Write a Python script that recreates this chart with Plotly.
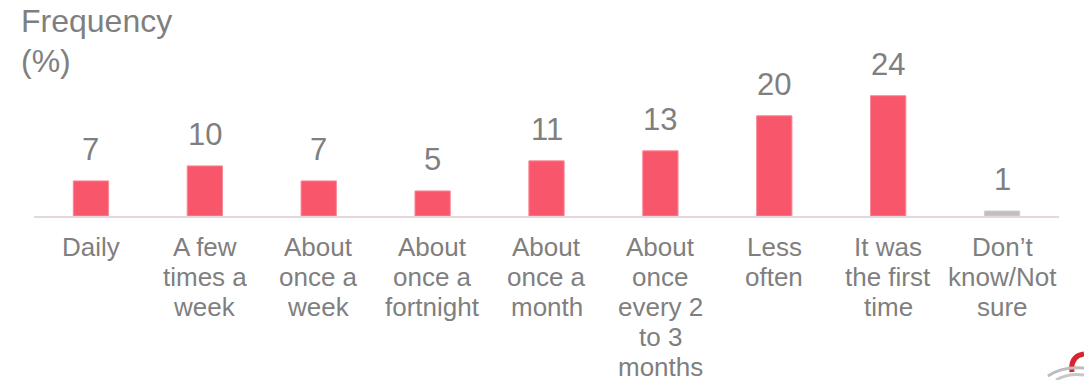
import plotly.graph_objects as go

categories = [
    "Daily",
    "A few times a week",
    "About once a week",
    "About once a fortnight",
    "About once a month",
    "About once every 2 to 3 months",
    "Less often",
    "It was the first time",
    "Don’t know/Not sure",
]
label_lines = [
    ["Daily"],
    ["A few", "times a", "week"],
    ["About", "once a", "week"],
    ["About", "once a", "fortnight"],
    ["About", "once a", "month"],
    ["About", "once", "every 2", "to 3", "months"],
    ["Less", "often"],
    ["It was", "the first", "time"],
    ["Don’t", "know/Not", "sure"],
]
values = [7, 10, 7, 5, 11, 13, 20, 24, 1]
bar_colors = ["#F7566B"] * 8 + ["#BFBFBF"]
line_colors = ["#FA8A98"] * 8 + ["#CFCFCF"]

W, H = 1084, 380
ML, MR, MT, MB = 34, 25, 15, 164
FONT = "Arial, Liberation Sans, sans-serif"
GRAY = "#7F7F7F"

fig = go.Figure(
    go.Bar(
        x=categories,
        y=values,
        marker=dict(color=bar_colors, line=dict(color=line_colors, width=1)),
        width=0.31,
        hoverinfo="skip",
    )
)

# value labels above each bar
for c, v in zip(categories, values):
    fig.add_annotation(
        x=c, y=v, text=str(v), showarrow=False,
        yanchor="bottom", yshift=12,
        font=dict(family=FONT, size=31, color=GRAY),
    )

# category labels, one line per annotation for tight line spacing
LINE = 30
for c, lines in zip(categories, label_lines):
    for i, t in enumerate(lines):
        fig.add_annotation(
            x=c, xref="x", yref="paper", y=0, text=t, showarrow=False,
            yanchor="top", yshift=-14 - i * LINE,
            font=dict(family=FONT, size=26, color=GRAY),
        )

# chart title
for i, t in enumerate(["Frequency", "(%)"]):
    fig.add_annotation(
        xref="paper", yref="paper", x=0, y=1, xshift=-15, yshift=14 - i * 40,
        xanchor="left", yanchor="top", align="left", showarrow=False,
        text=t, font=dict(family=FONT, size=32, color=GRAY),
    )

# small logo mark in the bottom-right corner (pixel -> paper helpers)
pw, ph = W - ML - MR, H - MT - MB
def px(x):
    return (x - ML) / pw
def py(y):
    return (H - MB - y) / ph

fig.add_shape(type="path", xref="paper", yref="paper",
              path=f"M {px(1072)},{py(372)} Q {px(1070)},{py(356)} {px(1084)},{py(354)}",
              line=dict(color="#D9232E", width=5))
fig.add_shape(type="path", xref="paper", yref="paper",
              path=f"M {px(1048)},{py(376)} Q {px(1062)},{py(366)} {px(1084)},{py(368)}",
              line=dict(color="#BDBDBD", width=3))
fig.add_shape(type="path", xref="paper", yref="paper",
              path=f"M {px(1056)},{py(380)} Q {px(1068)},{py(373)} {px(1084)},{py(375)}",
              line=dict(color="#C8C8C8", width=3))

fig.update_layout(
    width=W, height=H,
    margin=dict(l=ML, r=MR, t=MT, b=MB),
    paper_bgcolor="white", plot_bgcolor="white",
    showlegend=False,
    font=dict(family=FONT, color=GRAY),
)
fig.update_xaxes(
    showline=True, linecolor="#E3D8DC", linewidth=2,
    showticklabels=False, automargin=False,
    ticks="", showgrid=False,
)
fig.update_yaxes(range=[0, 40.1], visible=False, showgrid=False, automargin=False)

fig.write_html("out.html")
